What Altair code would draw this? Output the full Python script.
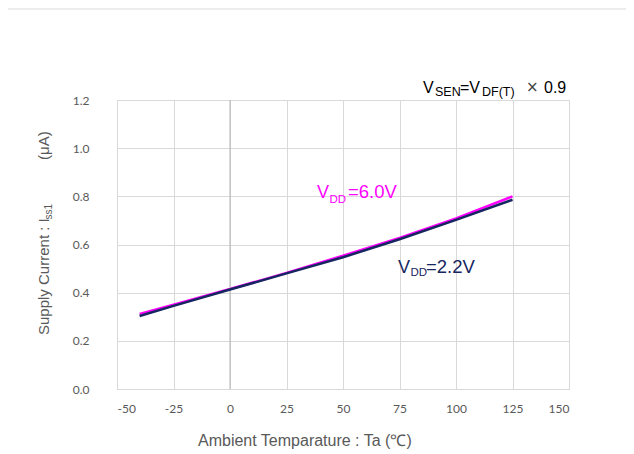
import altair as alt
import pandas as pd

# ---- data ----
temps = [-40, -25, 0, 25, 50, 75, 100, 125]
vdd60 = [0.312, 0.350, 0.415, 0.482, 0.553, 0.627, 0.708, 0.800]
vdd22 = [0.303, 0.345, 0.413, 0.480, 0.547, 0.622, 0.702, 0.786]
x_ticks = [-50, -25, 0, 25, 50, 75, 100, 125, 150]
y_ticks = [0.0, 0.2, 0.4, 0.6, 0.8, 1.0, 1.2]

PINK = "#FF00FF"
NAVY = "#162660"
GRAY = "#595959"
W, H = 452, 289

df60 = pd.DataFrame({"Ta": temps, "I": vdd60})
df22 = pd.DataFrame({"Ta": temps, "I": vdd22})
one = pd.DataFrame({"a": [0]})

xs = alt.Scale(domain=[-50, 150], nice=False, zero=False)
ys = alt.Scale(domain=[0, 1.2], nice=False)

xax = alt.Axis(values=x_ticks, title=None, grid=True, gridColor="#d9d9d9", domain=False,
               ticks=False, labelFont="Lato", labelFontSize=12, labelColor=GRAY,
               labelPadding=14, labelExpr="'' + datum.value")
yax = alt.Axis(values=y_ticks, title=None, grid=True, gridColor="#d9d9d9", domain=False,
               ticks=False, labelFont="Lato", labelFontSize=12, labelColor=GRAY,
               labelPadding=28, format=".1f")

base60 = alt.Chart(df60).mark_line(color=PINK, strokeWidth=2.5).encode(
    x=alt.X("Ta:Q", scale=xs, axis=xax),
    y=alt.Y("I:Q", scale=ys, axis=yax),
)
line22 = alt.Chart(df22).mark_line(color=NAVY, strokeWidth=2.5).encode(
    x=alt.X("Ta:Q", scale=xs),
    y=alt.Y("I:Q", scale=ys),
)
zero_rule = alt.Chart(pd.DataFrame({"Ta": [0]})).mark_rule(color="#b3b3b3", strokeWidth=1).encode(
    x=alt.X("Ta:Q", scale=xs)
)

frame = alt.Chart(one).mark_rect(fill=None, stroke="#d9d9d9", strokeWidth=1).encode(
    x=alt.value(-111), x2=alt.value(1000), y=alt.value(-91), y2=alt.value(1000)
)


def txt(t, x, y, size, color="#000000", font="Liberation Sans", angle=0, baseline="alphabetic"):
    return alt.Chart(one).mark_text(
        text=t, align="left", baseline=baseline, font=font, fontSize=size,
        color=color, angle=angle
    ).encode(x=alt.value(x), y=alt.value(y))


labels = [
    # V_SEN = V_DF(T) x 0.9
    txt("V", 306, -7.5, 16),
    txt("SEN", 318, -4, 12.5),
    txt("=V", 343, -7.5, 16),
    txt("DF(T)", 365, -4, 12.5),
    txt("×", 409, -8, 15, color="#404040", font="DejaVu Sans"),
    txt("0.9", 427, -7.5, 16),
    # V_DD=6.0V
    txt("V", 200, 97.5, 18, PINK),
    txt("DD", 212.5, 102.5, 11.5, PINK),
    txt("=6.0V", 231, 97.5, 18.5, PINK),
    # V_DD=2.2V
    txt("V", 281, 172.7, 18, NAVY),
    txt("DD", 293.5, 176, 11.5, NAVY),
    txt("=2.2V", 309, 172.7, 18.5, NAVY),
    # y title
    txt("Supply Current : I", -68, 235, 15, GRAY, angle=270),
    txt("ss1", -65, 119.5, 10, GRAY, angle=270),
    txt("(μA)", -68, 60, 15, GRAY, angle=270),
    # x title
    txt("Ambient Temparature : Ta (℃)", 81, 346, 16, GRAY),
]

chart = alt.layer(frame, base60, zero_rule, line22, *labels).properties(
    width=W, height=H,
    autosize=alt.AutoSizeParams(type="none"),
    padding={"left": 109, "top": 92, "right": 57, "bottom": 65},
).configure_view(stroke="#d9d9d9", strokeWidth=1).configure(background="white")

chart.save("out.html", embed_options={"renderer": "svg", "actions": False})
